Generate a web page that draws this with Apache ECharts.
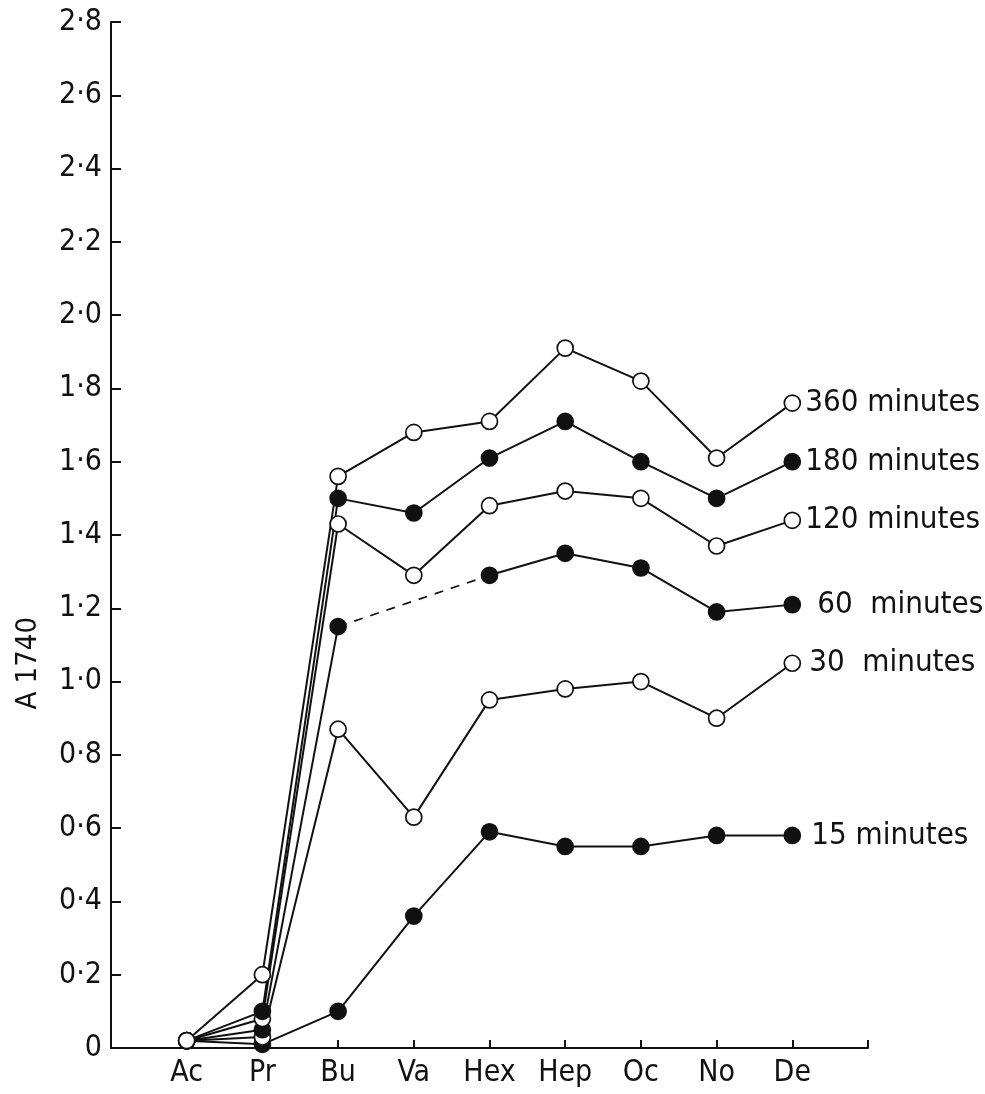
<!DOCTYPE html>
<html>
<head>
<meta charset="utf-8">
<script src="https://cdn.jsdelivr.net/npm/echarts@6/dist/echarts.min.js"></script>
<style>
  html, body { margin: 0; padding: 0; background: #fff; }
  #chart { width: 985px; height: 1094px; }
</style>
</head>
<body>
<div id="chart"></div>
<script>
// Acid chain (Ac … De) on the x axis; absorbance at 1740 on the y axis.
const categories = ['Ac', 'Pr', 'Bu', 'Va', 'Hex', 'Hep', 'Oc', 'No', 'De'];
const yTickLabels = ['0', '0·2', '0·4', '0·6', '0·8', '1·0', '1·2', '1·4', '1·6', '1·8', '2·0', '2·2', '2·4', '2·6', '2·8'];
const yAxisTitle = 'A 1740';

const min15  = [0.02, 0.01, 0.10, 0.36, 0.59, 0.55, 0.55, 0.58, 0.58];
const min30  = [0.02, 0.03, 0.87, 0.63, 0.95, 0.98, 1.00, 0.90, 1.05];
const min60  = [0.02, 0.05, 1.15, null, 1.29, 1.35, 1.31, 1.19, 1.21];
const min120 = [0.02, 0.08, 1.43, 1.29, 1.48, 1.52, 1.50, 1.37, 1.44];
const min180 = [0.02, 0.10, 1.50, 1.46, 1.61, 1.71, 1.60, 1.50, 1.60];
const min360 = [0.02, 0.20, 1.56, 1.68, 1.71, 1.91, 1.82, 1.61, 1.76];

const seriesDefs = [
  { name: '15 minutes',  values: min15,  filled: true,  dist: 10 },
  { name: '30  minutes', values: min30,  filled: false, dist: 8 },
  { name: '60  minutes', values: min60,  filled: true,  dist: 16 },
  { name: '120 minutes', values: min120, filled: false, dist: 4 },
  { name: '180 minutes', values: min180, filled: true,  dist: 4 },
  { name: '360 minutes', values: min360, filled: false, dist: 4 }
];

const FONT = '"DejaVu Sans Condensed", "DejaVu Sans", sans-serif';
const INK = '#111';
const last = categories.length - 1;

const series = [];
seriesDefs.forEach(def => {
  series.push({
    name: def.name,
    type: 'line',
    data: def.values.map((v, i) => [i + 1, v]),
    connectNulls: false,
    symbol: 'circle',
    symbolSize: 16,
    lineStyle: { color: INK, width: 2 },
    itemStyle: {
      color: def.filled ? INK : '#fff',
      borderColor: INK,
      borderWidth: 1.7
    },
    label: {
      show: true,
      position: 'right',
      distance: def.dist,
      color: INK,
      fontFamily: FONT,
      fontSize: 31,
      formatter: p => (p.dataIndex === last ? def.name : '')
    },
    emphasis: { disabled: true },
    z: 3
  });
});

// 60-minute curve: missing Va point bridged with a dashed segment Bu → Hex
series.push({
  type: 'line',
  data: [[3, min60[2]], [5, min60[4]]],
  symbol: 'none',
  lineStyle: { color: INK, width: 1.7, type: [9, 8] },
  silent: true,
  z: 2
});

const chart = echarts.init(document.getElementById('chart'), null, { renderer: 'canvas' });
chart.setOption({
  animation: false,
  backgroundColor: '#fff',
  grid: { left: 111, right: 117, top: 22, bottom: 46, containLabel: false },
  graphic: [{
    type: 'text',
    left: 14,
    top: 617,
    rotation: Math.PI / 2,
    originX: 0,
    originY: 0,
    style: {
      text: yAxisTitle,
      fill: INK,
      font: '29px ' + FONT,
      textAlign: 'center',
      textVerticalAlign: 'middle'
    }
  }],
  xAxis: {
    type: 'value',
    min: 0,
    max: 10,
    interval: 1,
    axisLine: { show: true, lineStyle: { color: INK, width: 2 } },
    axisTick: { show: true, inside: true, length: 8, lineStyle: { color: INK, width: 2 } },
    splitLine: { show: false },
    axisLabel: {
      color: INK,
      fontFamily: FONT,
      fontSize: 30,
      margin: 10,
      formatter: v => (v >= 1 && v <= categories.length ? categories[v - 1] : '')
    }
  },
  yAxis: {
    type: 'value',
    min: 0,
    max: 2.8,
    interval: 0.2,
    axisLine: { show: true, lineStyle: { color: INK, width: 2 } },
    axisTick: { show: true, inside: true, length: 10, lineStyle: { color: INK, width: 2 } },
    splitLine: { show: false },
    axisLabel: {
      color: INK,
      fontFamily: FONT,
      fontSize: 30,
      margin: 9,
      formatter: v => yTickLabels[Math.round(v / 0.2)]
    }
  },
  series: series
});
</script>
</body>
</html>
